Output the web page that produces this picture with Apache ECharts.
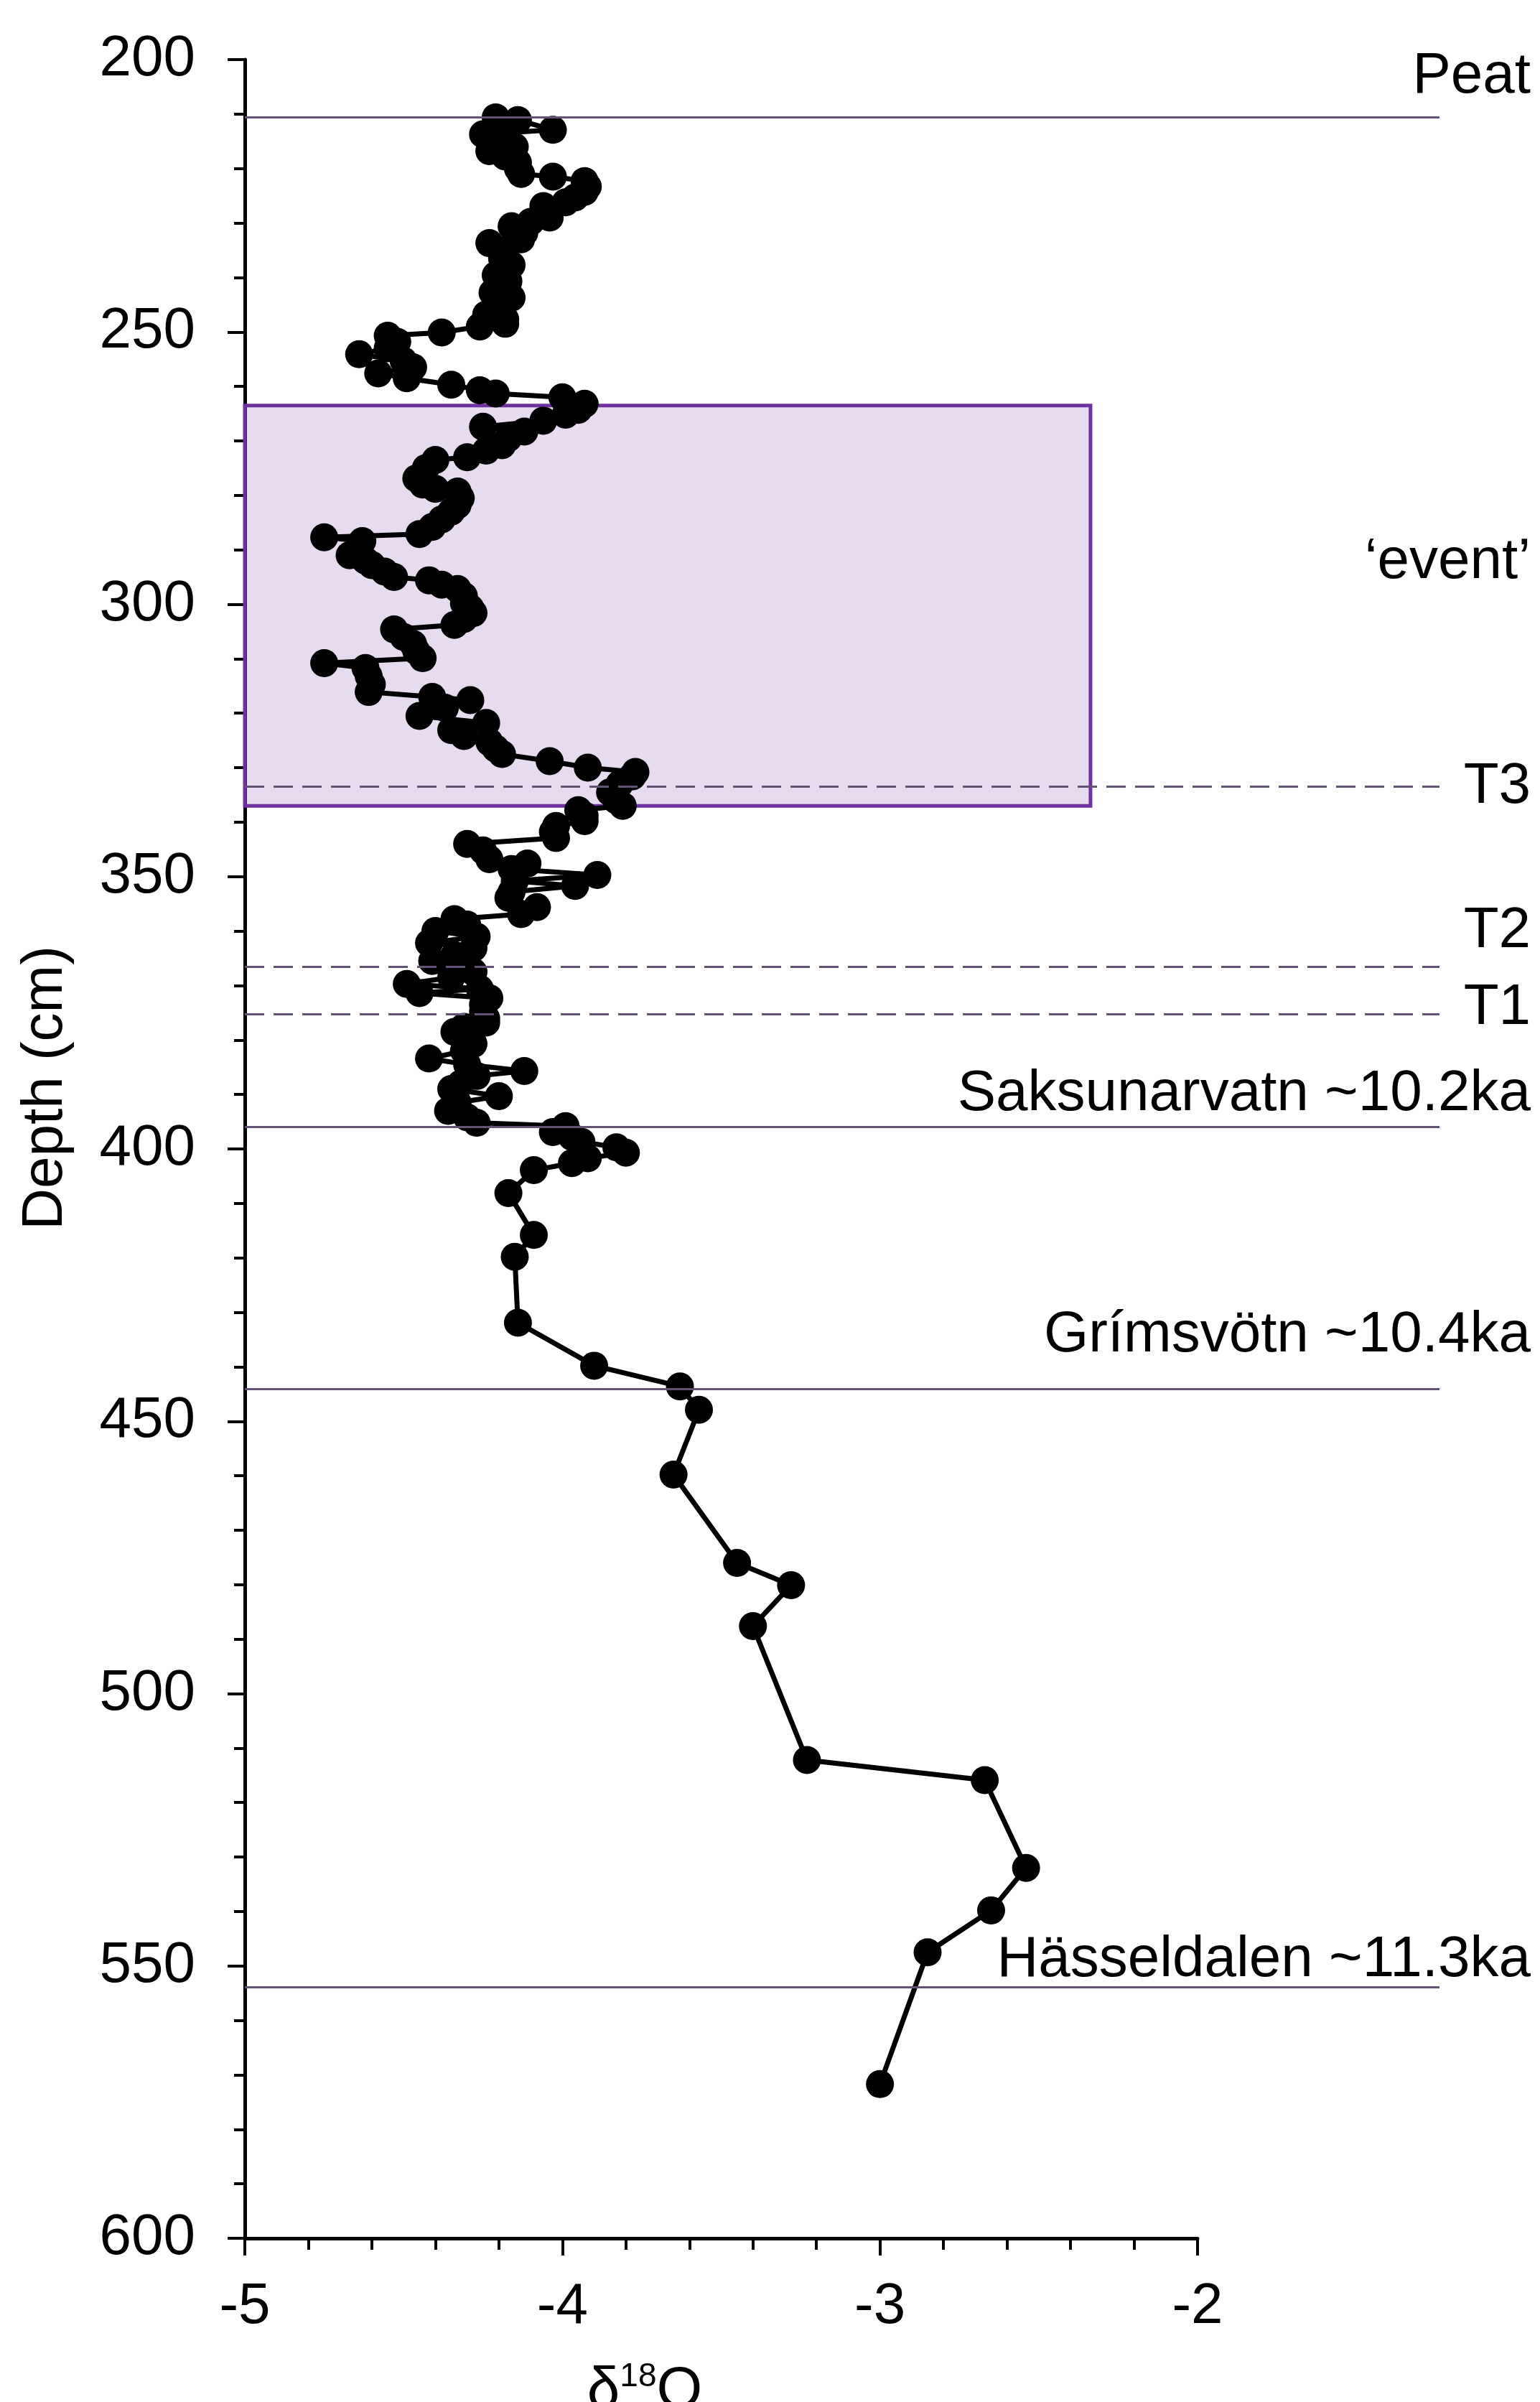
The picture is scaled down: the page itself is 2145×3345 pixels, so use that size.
<!DOCTYPE html>
<html>
<head>
<meta charset="utf-8">
<script src="https://cdn.jsdelivr.net/npm/echarts@6/dist/echarts.min.js"></script>
<style>
html,body{margin:0;padding:0;background:#fff;}
#chart{width:2145px;height:3345px;}
</style>
</head>
<body>
<div id="chart"></div>
<script>
// ---------- DATA ----------
const depthCm = [
210.6,211.1,212.9,213.7,214.6,216.0,216.8,217.8,218.9,220.0,221.0,221.5,222.3,223.3,224.3,225.3,226.2,226.9,228.0,229.0,
229.8,230.6,231.8,233.0,233.7,235.0,236.5,237.7,238.8,239.6,240.7,241.8,242.8,243.7,244.7,245.8,246.8,247.7,248.5,249.0,
250.1,250.7,251.8,253.0,254.1,255.3,256.5,257.6,258.5,259.7,260.7,261.3,262.0,263.2,
264.3,265.2,266.3,267.4,268.3,269.5,270.8,271.8,273.0,273.5,275.0,276.9,278.0,278.8,279.3,280.5,281.8,283.0,284.4,285.8,
287.1,287.7,288.4,289.6,291.0,292.0,292.8,294.0,295.0,295.6,296.4,297.2,298.5,299.8,300.7,301.6,302.7,303.8,304.6,306.0,
307.3,308.6,309.9,310.8,311.7,313.2,314.7,316.1,317.0,317.6,319.0,320.5,321.8,323.1,324.2,325.3,326.5,327.5,328.8,330.0,
330.8,331.6,333.0,334.5,336.0,337.0,337.8,338.8,339.8,340.7,341.8,342.9,344.0,345.2,346.8,347.6,348.6,349.7,350.8,351.7,
352.8,353.9,355.6,356.9,357.8,358.8,360.0,361.0,362.2,363.1,364.4,365.5,366.5,367.5,368.5,369.7,370.6,371.4,372.3,373.5,
374.8,376.0,376.8,377.6,378.5,379.6,380.7,382.0,383.4,384.5,385.7,386.6,388.0,389.0,390.3,391.5,393.0,394.2,395.2,395.8,
396.9,397.8,398.7,399.7,400.7,401.7,402.6,403.9,408.1,415.8,419.8,431.9,439.8,443.6,447.9,459.8,476.0,480.1,487.6,512.2,
515.9,532.0,539.8,547.5,571.7
];
const d18O = [
-4.21,-4.14,-4.03,-4.25,-4.18,-4.15,-4.23,-4.18,-4.14,-4.14,-4.13,-4.03,-3.93,-3.92,-3.93,-3.96,-3.99,-4.06,-4.05,-4.04,
-4.10,-4.16,-4.12,-4.13,-4.23,-4.19,-4.19,-4.16,-4.18,-4.21,-4.17,-4.19,-4.22,-4.16,-4.19,-4.19,-4.24,-4.18,-4.18,-4.26,
-4.38,-4.55,-4.52,-4.55,-4.64,-4.50,-4.47,-4.58,-4.49,-4.35,-4.26,-4.21,-4.00,-3.93,
-3.95,-3.99,-4.06,-4.25,-4.12,-4.17,-4.19,-4.24,-4.30,-4.40,-4.43,-4.46,-4.44,-4.40,-4.33,-4.32,-4.33,-4.35,-4.38,-4.41,
-4.45,-4.75,-4.63,-4.64,-4.67,-4.62,-4.60,-4.56,-4.53,-4.42,-4.38,-4.33,-4.31,-4.31,-4.29,-4.28,-4.31,-4.34,-4.53,-4.50,
-4.47,-4.46,-4.44,-4.75,-4.62,-4.61,-4.60,-4.61,-4.41,-4.29,-4.37,-4.45,-4.24,-4.35,-4.31,-4.23,-4.21,-4.19,-4.04,-3.92,
-3.77,-3.78,-3.82,-3.85,-3.83,-3.81,-3.95,-3.93,-3.93,-4.02,-4.03,-4.02,-4.30,-4.25,-4.23,-4.11,-4.16,-3.89,-4.15,-3.96,
-4.16,-4.17,-4.08,-4.13,-4.34,-4.30,-4.40,-4.27,-4.42,-4.28,-4.34,-4.41,-4.30,-4.28,-4.35,-4.49,-4.26,-4.45,-4.23,-4.25,
-4.25,-4.24,-4.24,-4.31,-4.34,-4.30,-4.28,-4.31,-4.42,-4.30,-4.12,-4.27,-4.32,-4.35,-4.20,-4.33,-4.36,-4.30,-4.27,-3.99,
-4.03,-3.97,-3.94,-3.83,-3.80,-3.92,-3.97,-4.09,-4.17,-4.09,-4.15,-4.14,-3.90,-3.63,-3.57,-3.65,-3.45,-3.28,-3.40,-3.23,
-2.67,-2.54,-2.65,-2.85,-3.00
];

const xTicks = [-5, -4, -3, -2];
const yTicks = [200, 250, 300, 350, 400, 450, 500, 550, 600];

// marker horizons (depth in cm)
const solidNames  = ['Peat', 'Saksunarvatn ~10.2ka', 'Grímsvötn ~10.4ka', 'Hässeldalen ~11.3ka'];
const solidDepths = [210.6, 396.0, 444.1, 553.9];
const dashNames   = ['T3', 'T2', 'T1'];
const dashDepths  = [333.4, 366.5, 375.2];
const eventName   = '‘event’';
const eventTop = 263.5, eventBottom = 337.0, eventRightX = -2.337;

// ---------- LAYOUT ----------
const G = {left: 341, top: 83, right: 1668, bottom: 3117};
const pxPerUnit = (G.right - G.left) / 3;
const labelRightPx = 2132, lineEndPx = 2005;
const x2Max = -5 + (labelRightPx - G.left) / pxPerUnit;
const lineEndX = -5 + (lineEndPx - G.left) / pxPerUnit;
// vertical centres of annotation texts (cm, layout only)
const labelCentre = {
  'Peat': 203.2, 'Saksunarvatn ~10.2ka': 390.0, 'Grímsvötn ~10.4ka': 434.3, 'Hässeldalen ~11.3ka': 549.0,
  'T3': 333.6, 'T2': 360.0, 'T1': 374.2, '‘event’': 292.3
};

const FONT = 'Liberation Sans, Arial, sans-serif';
const LINE_COL = '#625274';

const seriesData = depthCm.map((d, i) => [d18O[i], d]);

const markLines = [];
solidDepths.forEach(d => markLines.push([
  {coord: [-5, d], lineStyle: {type: 'solid', color: LINE_COL, width: 3}},
  {coord: [lineEndX, d]}
]));
dashDepths.forEach(d => markLines.push([
  {coord: [-5, d], lineStyle: {type: [27, 13], color: LINE_COL, width: 3}},
  {coord: [lineEndX, d]}
]));

const labelNames = solidNames.concat(dashNames, [eventName]);

const chart = echarts.init(document.getElementById('chart'), null, {renderer: 'canvas'});
const baseGraphic = [
  {
    type: 'text', x: 64, y: 1515, rotation: Math.PI / 2, z: 50,
    style: {text: 'Depth (cm)', font: '80px ' + FONT, fill: '#000', align: 'center', verticalAlign: 'middle'}
  },
  {
    type: 'text', x: 898, y: 3330, z: 50,
    style: {
      text: '{a|δ}{b|18}{a|O}', align: 'center', verticalAlign: 'middle', fill: '#000',
      rich: {
        a: {fontSize: 82, fontFamily: FONT, fill: '#000', lineHeight: 90},
        b: {fontSize: 46, fontFamily: FONT, fill: '#000', lineHeight: 90, padding: [0, 0, 40, 0]}
      }
    }
  }
];
chart.setOption({
  animation: false,
  backgroundColor: '#ffffff',
  grid: [
    {left: G.left, top: G.top, width: G.right - G.left, height: G.bottom - G.top, containLabel: false},
    {left: G.left, top: G.top, width: labelRightPx - G.left, height: G.bottom - G.top, containLabel: false}
  ],
  xAxis: [
    {
      type: 'value', gridIndex: 0, min: xTicks[0], max: xTicks[xTicks.length - 1], interval: 1,
      position: 'bottom',
      axisLine: {show: true, onZero: false, lineStyle: {color: '#000', width: 5}},
      axisTick: {show: true, inside: false, length: 24, lineStyle: {color: '#000', width: 4}},
      minorTick: {show: true, splitNumber: 5, length: 16, lineStyle: {color: '#000', width: 4}},
      splitLine: {show: false},
      axisLabel: {fontSize: 80, fontFamily: FONT, color: '#000', margin: 56}
    },
    {type: 'value', gridIndex: 1, min: -5, max: x2Max, show: false}
  ],
  yAxis: [
    {
      type: 'value', gridIndex: 0, min: yTicks[0], max: yTicks[yTicks.length - 1], interval: 50, inverse: true,
      position: 'left',
      axisLine: {show: true, onZero: false, lineStyle: {color: '#000', width: 5}},
      axisTick: {show: true, inside: false, length: 24, lineStyle: {color: '#000', width: 4}},
      minorTick: {show: true, splitNumber: 5, length: 15, lineStyle: {color: '#000', width: 4}},
      splitLine: {show: false},
      axisLabel: {fontSize: 80, fontFamily: FONT, color: '#000', margin: 69}
    },
    {type: 'value', gridIndex: 1, min: 200, max: 600, inverse: true, show: false}
  ],
  series: [
    {
      type: 'line', xAxisIndex: 0, yAxisIndex: 0, data: seriesData, z: 2,
      symbol: 'circle', symbolSize: 39, showSymbol: true,
      lineStyle: {color: '#000', width: 7},
      itemStyle: {color: '#000'},
      clip: false
    },
    {
      type: 'line', xAxisIndex: 1, yAxisIndex: 1, data: [], z: 5, silent: true,
      markArea: {
        silent: true,
        itemStyle: {color: 'rgba(112,48,160,0.17)', borderColor: '#7030A0', borderWidth: 5},
        data: [[{coord: [-5, eventTop]}, {coord: [eventRightX, eventBottom]}]]
      },
      markLine: {
        silent: true, symbol: ['none', 'none'], label: {show: false},
        data: markLines
      }
    }
  ],
  graphic: baseGraphic
});

// annotation texts, positioned through the (hidden) wide axis pair
const labelGraphic = labelNames.map(n => {
  const p = chart.convertToPixel({xAxisIndex: 1, yAxisIndex: 1}, [x2Max, labelCentre[n]]);
  return {
    type: 'text', x: p[0], y: p[1], z: 50,
    style: {text: n, font: '80px ' + FONT, fill: '#000000', align: 'right', verticalAlign: 'middle'}
  };
});
chart.setOption({graphic: baseGraphic.concat(labelGraphic)});
</script>
</body>
</html>
